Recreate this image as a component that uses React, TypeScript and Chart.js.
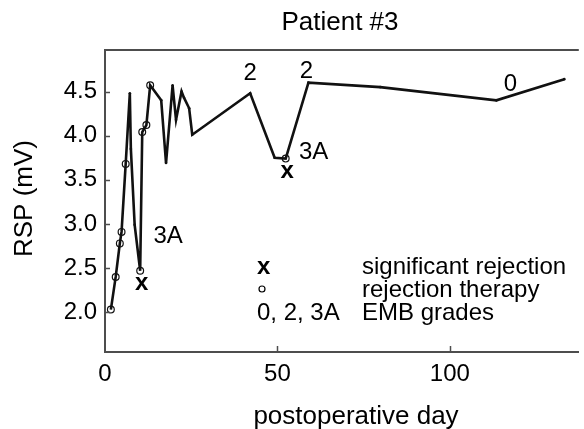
import React, { useEffect, useRef } from 'react';
import { Chart, registerables } from 'chart.js';

Chart.register(...registerables);

// ---- data ----
const days = [1.7, 3.1, 4.3, 4.8, 6.0, 7.2, 7.5, 8.6, 10.2, 10.8, 12.0, 13.1, 16.3, 17.7, 19.6, 20.6, 22.2, 22.9, 24.4, 25.3, 42.1, 49.2, 52.4, 59.0, 79.8, 113.5, 133.2];
const rsp = [2.03, 2.40, 2.78, 2.91, 3.68, 4.48, 3.85, 2.99, 2.47, 4.04, 4.12, 4.57, 4.40, 3.69, 4.57, 4.18, 4.50, 4.43, 4.31, 4.01, 4.48, 3.75, 3.74, 4.60, 4.55, 4.40, 4.64];
const therapy = [true, true, true, true, true, false, false, false, true, true, true, true, false, false, false, false, false, false, false, false, false, false, true, false, false, false, false];
const rejectionDays = [10.2, 52.4];
const gradeDays = [10.2, 42.1, 52.4, 59.0, 113.5];
const gradeLabels = ['3A', '2', '3A', '2', '0'];
const xTicks = [0, 50, 100];
const yTicks = [2.0, 2.5, 3.0, 3.5, 4.0, 4.5];
const legendSymbols = ['x', 'o', '0, 2, 3A'];
const legendTexts = ['significant rejection', 'rejection therapy', 'EMB grades'];
const titleText = 'Patient #3';
const xTitle = 'postoperative day';
const yTitle = 'RSP (mV)';

// ---- layout / style ----
const FONT = '"Liberation Sans", Arial, sans-serif';
const AXIS_COLOR = '#4d4d4d';
const gradeOffsets = [[28, -36], [0, -22], [28, -8], [-2, -13], [14, -18]];
const legendRows = [274, 297, 320];

const valueAt = (d: number) => rsp[days.indexOf(d)];

const overlay = {
  id: 'overlay',
  afterDraw(chart: any) {
    const { ctx, chartArea, scales } = chart;
    const xs = scales.x;
    const ys = scales.y;
    ctx.save();
    // top border
    ctx.strokeStyle = AXIS_COLOR;
    ctx.lineWidth = 2;
    ctx.beginPath();
    ctx.moveTo(chartArea.left - 1, chartArea.top);
    ctx.lineTo(chartArea.right, chartArea.top);
    ctx.stroke();
    // inward ticks
    ctx.lineWidth = 1.5;
    yTicks.forEach((v) => {
      const p = Math.round(ys.getPixelForValue(v)) + 0.5;
      ctx.beginPath();
      ctx.moveTo(chartArea.left, p);
      ctx.lineTo(chartArea.left + 5, p);
      ctx.stroke();
    });
    xTicks.forEach((v) => {
      if (v === xs.min) return;
      const p = Math.round(xs.getPixelForValue(v)) + 0.5;
      ctx.beginPath();
      ctx.moveTo(p, chartArea.bottom);
      ctx.lineTo(p, chartArea.bottom - 6);
      ctx.stroke();
    });

    ctx.fillStyle = '#000';
    // title
    ctx.font = `26px ${FONT}`;
    ctx.textAlign = 'center';
    ctx.textBaseline = 'alphabetic';
    ctx.fillText(titleText, 340, 30);
    // x title
    ctx.fillText(xTitle, 356, 424);
    // y title
    ctx.save();
    ctx.translate(32, 198.5);
    ctx.rotate(-Math.PI / 2);
    ctx.fillText(yTitle, 0, 0);
    ctx.restore();

    // rejection marks
    ctx.font = `bold 24px ${FONT}`;
    rejectionDays.forEach((d) => {
      const px = xs.getPixelForValue(d);
      const py = ys.getPixelForValue(valueAt(d));
      ctx.fillText('x', px + 1.5, py + 19.5);
    });

    // grade labels
    ctx.font = `24px ${FONT}`;
    gradeDays.forEach((d, i) => {
      const px = xs.getPixelForValue(d);
      const py = ys.getPixelForValue(valueAt(d));
      const [dx, dy] = gradeOffsets[i];
      ctx.fillText(gradeLabels[i], px + dx, py + dy + 8.6);
    });

    // legend
    ctx.textAlign = 'left';
    legendSymbols.forEach((s, i) => {
      if (s === 'o') {
        ctx.beginPath();
        ctx.lineWidth = 1.2;
        ctx.strokeStyle = '#000';
        ctx.arc(262, legendRows[i] - 8, 3, 0, Math.PI * 2);
        ctx.stroke();
      } else {
        ctx.font = s === 'x' ? `bold 24px ${FONT}` : `24px ${FONT}`;
        ctx.fillText(s, 257, legendRows[i]);
      }
      ctx.font = `24px ${FONT}`;
      ctx.fillText(legendTexts[i], 362, legendRows[i]);
    });
    ctx.restore();
  },
};

export default function App() {
  const ref = useRef<HTMLCanvasElement | null>(null);
  useEffect(() => {
    if (!ref.current) return;
    const chart = new Chart(ref.current, {
      type: 'line',
      data: {
        datasets: [
          {
            data: days.map((d, i) => ({ x: d, y: rsp[i] })),
            borderColor: '#111',
            borderWidth: 2.6,
            tension: 0,
            pointRadius: therapy.map((t) => (t ? 3.4 : 1.3)),
            pointBorderWidth: therapy.map((t) => (t ? 1.2 : 0)),
            pointBorderColor: '#111',
            pointBackgroundColor: therapy.map((t) => (t ? 'rgba(255,255,255,0)' : '#111')),
            clip: false as any,
          },
        ],
      },
      options: {
        animation: false,
        responsive: false,
        devicePixelRatio: 1,
        layout: { padding: { top: 50, left: 0, right: 0, bottom: 0 } },
        plugins: { legend: { display: false }, title: { display: false }, tooltip: { enabled: false } },
        scales: {
          x: {
            type: 'linear',
            min: 0,
            max: 137.4,
            afterBuildTicks: (s: any) => { s.ticks = xTicks.map((v) => ({ value: v })); },
            afterFit: (s: any) => { s.height = 77; },
            grid: { display: false, drawTicks: false },
            border: { display: true, color: AXIS_COLOR, width: 2 },
            ticks: { color: '#000', font: { family: FONT, size: 24 }, padding: 8, maxRotation: 0 },
          },
          y: {
            type: 'linear',
            min: 1.55,
            max: 4.97,
            afterBuildTicks: (s: any) => { s.ticks = yTicks.map((v) => ({ value: v })); },
            afterFit: (s: any) => { s.width = 105; },
            grid: { display: false, drawTicks: false },
            border: { display: true, color: AXIS_COLOR, width: 2 },
            ticks: { color: '#000', font: { family: FONT, size: 24 }, padding: 8, callback: (v: any) => Number(v).toFixed(1) },
          },
        },
      },
      plugins: [overlay],
    });
    return () => chart.destroy();
  }, []);
  return (
    <div style={{ position: 'absolute', left: 0, top: 0, width: 584, height: 429, background: '#fff' }}>
      <canvas ref={ref} width={584} height={429} style={{ display: 'block' }} />
    </div>
  );
}
